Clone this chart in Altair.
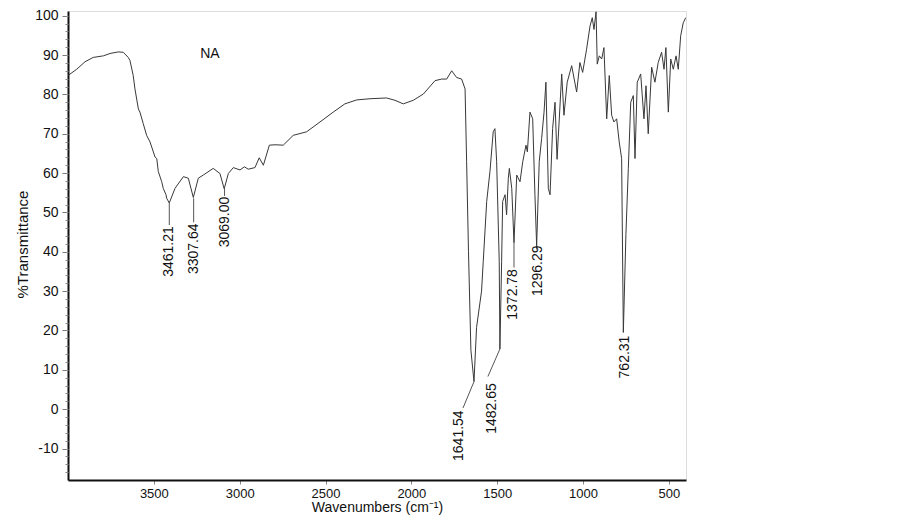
import altair as alt
import pandas as pd

# Spectrum (wavenumber in cm-1, %Transmittance)
wavenumber = [4000, 3949, 3901, 3853, 3794, 3755, 3707, 3678, 3649, 3639,
              3620, 3610, 3590, 3581, 3562, 3542, 3522, 3493, 3483, 3474,
              3454, 3445, 3429, 3425,
              3410, 3377, 3328, 3299, 3270, 3241, 3212, 3154, 3115, 3090,
              3066, 3037, 2998, 2973, 2950, 2911, 2886, 2862, 2827, 2794,
              2746, 2688, 2610, 2532, 2455, 2387, 2318, 2241, 2144, 2095,
              2047, 1989, 1930, 1862, 1823, 1794, 1765, 1736, 1707, 1687,
              1678, 1667, 1653, 1635, 1620, 1591, 1581, 1561, 1542, 1523,
              1513, 1503, 1488, 1484, 1474, 1468, 1454, 1445, 1435, 1429,
              1415, 1402, 1386, 1367, 1351, 1332, 1324, 1309, 1293, 1280,
              1270, 1255, 1241, 1227, 1216, 1202, 1192, 1177, 1163, 1151,
              1124, 1111, 1092, 1066, 1037, 1018, 1002, 979, 959, 946,
              936, 924, 917, 905, 891, 878, 862, 847, 833, 820,
              804, 789, 775, 765, 750, 736, 722, 707, 697, 684,
              664, 645, 633, 620, 600, 581, 562, 542, 528, 517,
              503, 489, 474, 458, 445, 431, 416, 402]
transmittance = [84.8, 86.4, 88.3, 89.4, 89.8, 90.4, 90.8, 90.7, 89.4, 88.6,
                 84.8, 81.4, 76.3, 75.5, 72.6, 69.6, 67.9, 64.1, 63.7, 60.4,
                 57.8, 56.1, 54.5, 53.6,
                 52.4, 56.1, 59.1, 58.7, 53.8, 58.7, 59.5, 61.2, 59.9, 56.0,
                 59.9, 61.4, 60.8, 61.6, 61.0, 61.4, 63.9, 62.0, 67.1, 67.2,
                 67.1, 69.6, 70.5, 73.0, 75.5, 77.6, 78.6, 78.9, 79.1, 78.5,
                 77.6, 78.5, 80.1, 83.5, 83.9, 83.9, 86.0, 84.3, 83.9, 81.4,
                 62.9, 40.0, 15.0, 7.0, 20.8, 30.0, 37.6, 52.8, 60.4, 70.5,
                 71.3, 62.9, 37.6, 15.3, 37.6, 52.8, 54.5, 49.4, 58.7, 61.2,
                 56.1, 42.3, 59.5, 57.8, 62.9, 67.1, 65.4, 75.5, 73.8, 54.5,
                 41.5, 62.9, 68.8, 75.5, 83.1, 56.1, 54.5, 71.3, 78.0, 63.5,
                 85.2, 74.7, 83.1, 87.3, 80.6, 88.1, 85.6, 91.5, 97.4, 99.5,
                 96.5, 101.0, 87.7, 89.8, 89.0, 91.9, 73.8, 84.8, 74.7, 73.0,
                 73.8, 67.9, 63.7, 19.5, 44.4, 61.2, 78.0, 79.7, 63.7, 83.1,
                 85.2, 73.8, 82.2, 70.0, 86.9, 83.1, 88.1, 90.7, 86.4, 91.9,
                 75.5, 89.0, 86.4, 89.8, 86.4, 94.9, 98.2, 99.5]

# Peak annotations
peak_labels = ["3461.21", "3307.64", "3069.00", "1641.54", "1482.65", "1372.78", "1296.29", "762.31"]
label_wn = [3412, 3266, 3085, 1722, 1530, 1408, 1265, 757]
label_t = [46.5, 47.2, 54.0, -0.3, 6.6, 35.6, 41.6, 18.7]

# Leader lines (start at peak, end at label)
leader_wn1 = [3410, 3268, 3088, 1635, 1484, 1402, 1270]
leader_t1 = [52.4, 53.6, 56.0, 7.0, 15.3, 42.3, 41.5]
leader_wn2 = [3410, 3268, 3088, 1699, 1554, 1402, 1270]
leader_t2 = [46.8, 47.5, 54.2, 0.3, 8.3, 36.0, 40.6]

sample_name = ["NA"]
sample_wn = [3173]
sample_t = [90.2]

x_ticks = [500, 1000, 1500, 2000, 2500, 3000, 3500]
y_ticks = list(range(-10, 101, 10))
y_minor = list(range(-16, 101, 2))

FONT = "Liberation Sans"

spec = pd.DataFrame({"wn": wavenumber, "t": transmittance})
labels = pd.DataFrame({"label": peak_labels, "wn": label_wn, "t": label_t})
leaders = pd.DataFrame({"wn1": leader_wn1, "t1": leader_t1, "wn2": leader_wn2, "t2": leader_t2})
sample = pd.DataFrame({"name": sample_name, "wn": sample_wn, "t": sample_t})

x_scale = alt.Scale(domain=[400, 4000], reverse=True, nice=False, zero=False)
y_scale = alt.Scale(domain=[-18, 101.2], nice=False, zero=False)

x_axis = alt.Axis(
    values=x_ticks, labelExpr="'' + datum.value", title="Wavenumbers (cm⁻¹)",
    tickSize=4, tickColor="#888888", labelPadding=3,
    labelFont=FONT, labelFontSize=13, labelColor="#111111",
    titleFont=FONT, titleFontSize=14, titleFontWeight="normal", titleColor="#111111",
    titleY=20, titleBaseline="top", grid=False,
    domainColor="#111111", domainWidth=2)

y_axis = alt.Axis(
    values=y_ticks, labelExpr="'' + datum.value", title="%Transmittance", orient="left",
    tickSize=6, tickColor="#777777", labelPadding=4,
    labelFont=FONT, labelFontSize=14, labelColor="#111111",
    titleFont=FONT, titleFontSize=15, titleFontWeight="normal", titleColor="#111111",
    titleX=-46, titleY=233, titleAngle=270, titleBaseline="middle", titleAlign="center",
    grid=False, domainColor="#111111", domainWidth=2)

line = alt.Chart(spec).mark_line(color="#383838", strokeWidth=1, clip=True).encode(
    x=alt.X("wn:Q", scale=x_scale, axis=x_axis),
    y=alt.Y("t:Q", scale=y_scale, axis=y_axis),
)

minor = alt.Chart(pd.DataFrame({"m": y_minor})).mark_point(opacity=0).encode(
    x=alt.value(0),
    y=alt.Y("m:Q", scale=y_scale, axis=alt.Axis(
        values=y_minor, labels=False, title=None, orient="left",
        tickSize=3, tickColor="#888888", domain=False, grid=False)),
)

rules = alt.Chart(leaders).mark_rule(color="#555555", strokeWidth=1).encode(
    x=alt.X("wn1:Q", scale=x_scale, axis=x_axis),
    y=alt.Y("t1:Q", scale=y_scale, axis=None),
    x2="wn2:Q",
    y2="t2:Q",
)

texts = alt.Chart(labels).mark_text(
    angle=270, align="right", baseline="middle", font=FONT, fontSize=14, color="#111111"
).encode(
    x=alt.X("wn:Q", scale=x_scale, axis=x_axis),
    y=alt.Y("t:Q", scale=y_scale, axis=None),
    text="label:N",
)

name = alt.Chart(sample).mark_text(
    align="center", baseline="middle", font=FONT, fontSize=14, color="#111111"
).encode(
    x=alt.X("wn:Q", scale=x_scale, axis=x_axis),
    y=alt.Y("t:Q", scale=y_scale, axis=None),
    text="name:N",
)

chart = alt.layer(line, minor, rules, texts, name).resolve_axis(
    y="independent"
).properties(
    width=618, height=469,
    autosize=alt.AutoSizeParams(type="none"),
    padding={"left": 60, "top": 3, "right": 20, "bottom": 35},
).configure_view(
    stroke="#999999", strokeWidth=1
).configure(background="white")

chart.save("out.html", embed_options={"renderer": "svg", "actions": False})
